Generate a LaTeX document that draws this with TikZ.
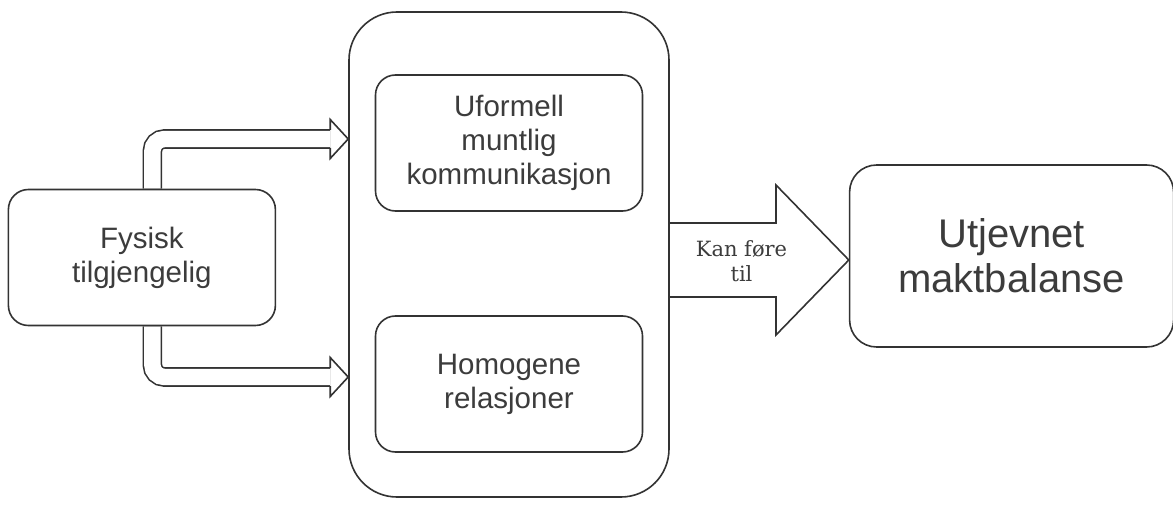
\documentclass[tikz,border=0pt]{standalone}
\usepackage{fontspec}
\setmainfont{Liberation Sans}
\newfontfamily\arrowfont{DejaVu Serif}
\usepackage{tikz}
\usetikzlibrary{
  positioning,
  backgrounds,
  calc
}
\definecolor{diagLine}{RGB}{51,51,51}
\definecolor{diagText}{RGB}{60,60,60}

\begin{document}
\begin{tikzpicture}[
  x=1pt, y=-1pt,
  line width=1.6pt,
  box/.style={
    rounded corners=20pt,
    draw=diagLine,
    fill=white,
    minimum width=267pt,
    minimum height=136pt,
    align=center,
    text=diagText,
    font=\fontsize{29.5}{34}\selectfont
  },
  container/.style={
    box,
    rounded corners=48pt,
    minimum width=320pt,
    minimum height=485pt
  },
  goal/.style={
    box,
    rounded corners=27pt,
    minimum width=324pt,
    minimum height=182pt,
    font=\fontsize{40}{45}\selectfont
  },
  link/.style={draw=diagLine, line width=1.6pt, double=white, double distance=16.4pt, rounded corners=12pt},
  linkhead/.style={draw=diagLine, line join=miter},
  bigarrow/.style={draw=diagLine, line join=miter},
  flowlabel/.style={align=center, text=diagText, font=\arrowfont\fontsize{21}{25}\selectfont}
]
\useasboundingbox (0,0) rectangle (1173,505);

\node[container] (ctr) at (509,254.5) {};
\node[box, below=63pt of ctr.north] (oral) {Uformell\\muntlig\\kommunikasjon};
\node[box, above=45pt of ctr.south] (homog) {Homogene\\relasjoner};
\node[box, left=72pt of ctr, yshift=-3pt] (fys) {Fysisk\\tilgjengelig};
\node[goal, right=179pt of ctr, yshift=-1.5pt] (ut) {Utjevnet\\maktbalanse};

% double arrows into the container
\path (ctr.west |- 0,139) ++(-18,0) coordinate (in1);
\path (ctr.west |- 0,377) ++(-18,0) coordinate (in2);
\begin{scope}[on background layer]
\draw[link] ([xshift=10.5pt]fys.north) |- (in1);
\draw[link] ([xshift=10.5pt]fys.south) |- (in2);
\end{scope}
\draw[linkhead] ($(in1)+(0,-9)$) -- ++(0,-10.5) -- (ctr.west |- in1)
  -- ($(in1)+(0,19.5)$) -- ++(0,-10.5);
\draw[linkhead] ($(in2)+(0,-9)$) -- ++(0,-10.5) -- (ctr.west |- in2)
  -- ($(in2)+(0,19.5)$) -- ++(0,-10.5);

% block arrow
\draw[bigarrow] (ctr.east |- 0,223) -- (776,223) -- (776,185) -- (ut.west |- 0,260)
  -- (776,335) -- (776,297) -- (ctr.east |- 0,297);
\node[flowlabel] (lbl) at (741.5,261) {Kan føre\\til};

\end{tikzpicture}
\end{document}
